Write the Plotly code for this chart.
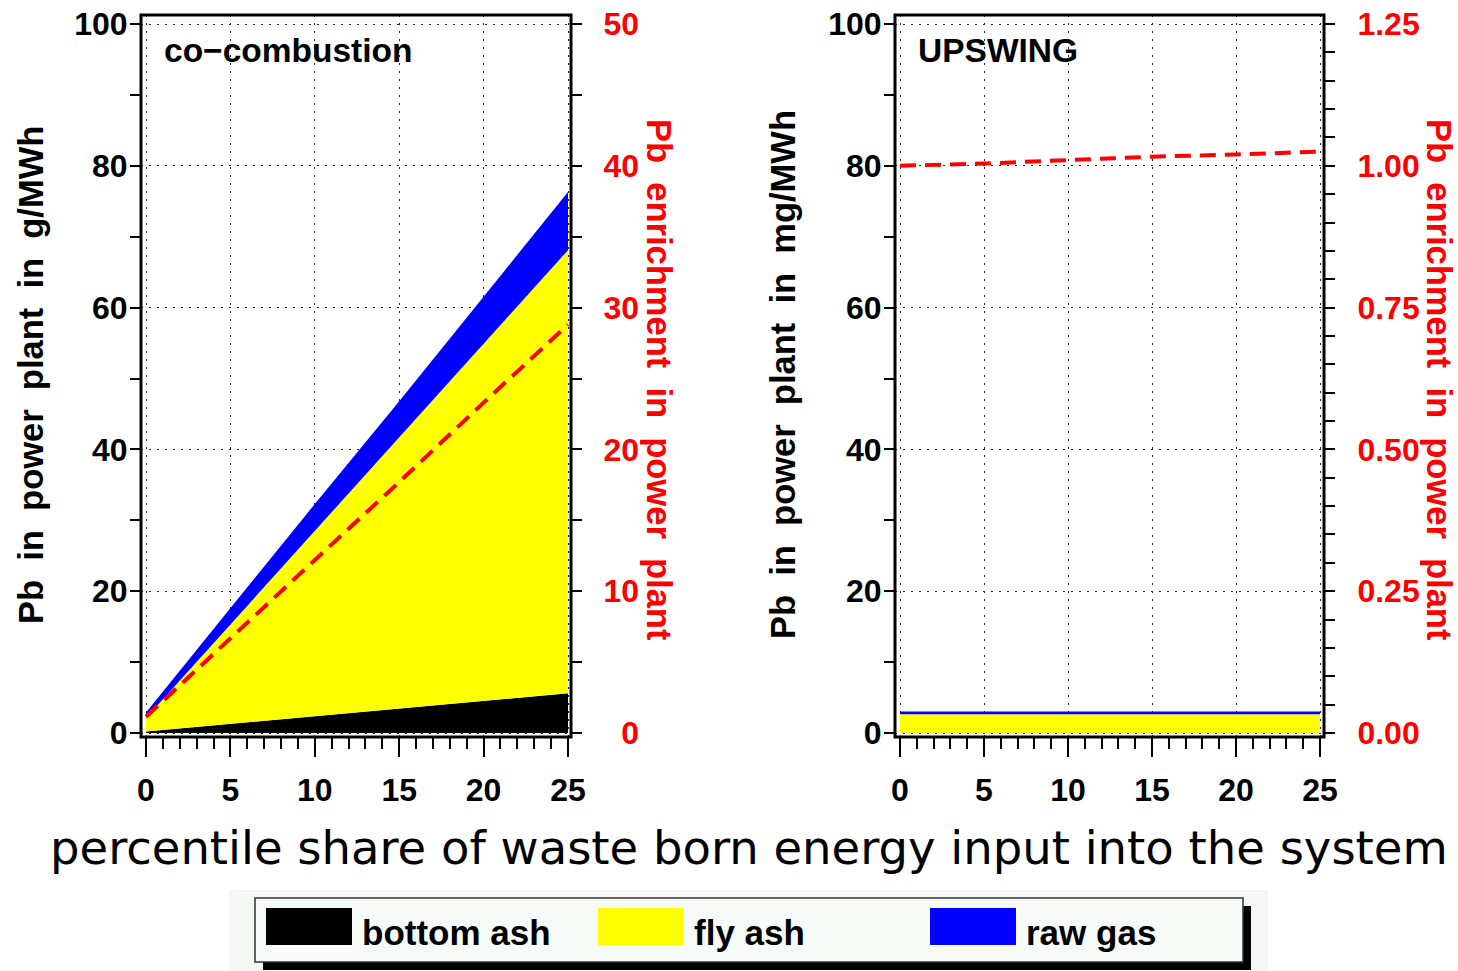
import plotly.graph_objects as go

# ---------------- data ----------------
share = [0, 5, 10, 15, 20, 25]

# co-combustion panel (g/MWh)
cc_bottom_ash = [0.2, 1.3, 2.4, 3.4, 4.5, 5.6]
cc_fly_ash = [1.9, 14.0, 26.1, 38.2, 50.4, 62.5]
cc_raw_gas = [0.8, 2.3, 3.8, 5.2, 6.7, 8.2]
cc_enrichment = [1.15, 6.7, 12.2, 17.7, 23.3, 28.8]

# UPSWING panel (mg/MWh)
up_bottom_ash = [0.05, 0.05, 0.05, 0.05, 0.05, 0.05]
up_fly_ash = [2.6, 2.6, 2.6, 2.6, 2.6, 2.6]
up_raw_gas = [0.4, 0.4, 0.4, 0.4, 0.4, 0.4]
up_enrichment = [1.000, 1.004, 1.010, 1.016, 1.020, 1.025]

series_names = ["bottom ash", "fly ash", "raw gas"]
series_colors = ["#000000", "#ffff00", "#0000ff"]
enrich_color = "#ff0000"

panel_titles = ["co\u2212combustion", "UPSWING"]
left_titles = ["Pb  in  power  plant  in  g/MWh", "Pb  in  power  plant  in  mg/MWh"]
right_title = "Pb  enrichment  in  power  plant"
x_title = "percentile share of waste born energy input into the system"

left_ticks = [0, 20, 40, 60, 80, 100]
right_ticks_cc = [0, 10, 20, 30, 40, 50]
right_ticks_up = [0.0, 0.25, 0.5, 0.75, 1.0, 1.25]
right_text_cc = ["\u00a0\u00a00", "10", "20", "30", "40", "50"]
right_text_up = ["0.00", "0.25", "0.50", "0.75", "1.00", "1.25"]

# ---------------- layout helpers ----------------
W, H = 1458, 971
def X(px):
    return px / W
def Y(py):
    return 1 - py / H

TICKFONT = dict(family="Liberation Sans", size=32, color="black", weight="bold")
TITLEFONT = dict(family="Liberation Sans", size=34.5, color="black", weight="bold")

fig = go.Figure()

panels = [
    dict(x="x", y="y", y2="y2", data=(cc_bottom_ash, cc_fly_ash, cc_raw_gas), enr=cc_enrichment),
    dict(x="x2", y="y3", y2="y4", data=(up_bottom_ash, up_fly_ash, up_raw_gas), enr=up_enrichment),
]
for p_i, p in enumerate(panels):
    for name, col, vals in zip(series_names, series_colors, p["data"]):
        fig.add_trace(go.Scatter(
            x=share, y=vals, name=name, mode="lines",
            stackgroup="s%d" % p_i, line=dict(width=0, color=col),
            fillcolor=col, showlegend=False, xaxis=p["x"], yaxis=p["y"],
            hoverinfo="skip"))
    fig.add_trace(go.Scatter(
        x=share, y=p["enr"], mode="lines", showlegend=False,
        line=dict(color=enrich_color, width=4, dash="16px,9px"),
        xaxis=p["x"], yaxis=p["y2"]))

# geometry (pixels)
ytop, ybot = 15, 737
y_zero, y_hundred = 733, 24
ppu = (y_zero - y_hundred) / 100.0
yr = [-(ybot - y_zero) / ppu, 100 + (y_hundred - ytop) / ppu]
frames = [(141, 571, 146, 568), (895, 1324, 900, 1320)]

xr = []
for (fl, fr, x0, x25) in frames:
    u = (x25 - x0) / 25.0
    xr.append([-(x0 - fl) / u, 25 + (fr - x25) / u])

ydom = [Y(ybot), Y(ytop)]
grid = dict(showgrid=True, gridcolor="#222222", gridwidth=1.2, griddash="1.5px,6.5px")

def xaxis(i):
    fl, fr = frames[i][0], frames[i][1]
    return dict(domain=[X(fl), X(fr)], range=xr[i], anchor="y" if i == 0 else "y3",
                tickvals=share, ticks="outside", ticklen=19, tickwidth=2, tickcolor="black",
                minor=dict(dtick=1, tick0=0, ticks="outside", ticklen=11, tickwidth=1.5, tickcolor="black", showgrid=False),
                tickfont=TICKFONT, ticklabelstandoff=6, showline=False, zeroline=False,
                automargin=False, **grid)

def yleft(i):
    return dict(domain=ydom, range=yr, anchor="x" if i == 0 else "x2",
                tickvals=left_ticks, ticks="outside", ticklen=10, tickwidth=1.5, tickcolor="black",
                minor=dict(dtick=10, tick0=0, ticks="outside", ticklen=10, tickwidth=1.5, tickcolor="black", showgrid=False),
                tickfont=TICKFONT, ticklabelstandoff=-4, showline=False, zeroline=False,
                automargin=False, **grid)

def yright(i, over, top, vals, text, minor_dt, standoff):
    return dict(range=[yr[0] / 100 * top, yr[1] / 100 * top], overlaying=over, side="right",
                anchor="x" if i == 0 else "x2",
                tickvals=vals, ticktext=text, ticks="outside", ticklen=10, tickwidth=1.5, tickcolor="black",
                minor=dict(dtick=minor_dt, tick0=0, ticks="outside", ticklen=10, tickwidth=1.5, tickcolor="black", showgrid=False),
                tickfont=dict(TICKFONT, color=enrich_color), ticklabelstandoff=standoff,
                showgrid=False, showline=False, zeroline=False, automargin=False)

fig.update_layout(
    width=W, height=H, autosize=False,
    margin=dict(l=0, r=0, t=0, b=0, autoexpand=False),
    paper_bgcolor="white", plot_bgcolor="white",
    xaxis=xaxis(0), xaxis2=xaxis(1),
    yaxis=yleft(0), yaxis3=yleft(1),
    yaxis2=yright(0, "y", 50, right_ticks_cc, right_text_cc, 5, 15),
    yaxis4=yright(1, "y3", 1.25, right_ticks_up, right_text_up, 0.05, 16),
)

shapes = []
annotations = []
# frames
for (fl, fr, _, _) in frames:
    shapes.append(dict(type="rect", xref="paper", yref="paper", x0=X(fl), x1=X(fr), y0=Y(ybot), y1=Y(ytop),
                       line=dict(color="black", width=3), fillcolor="rgba(0,0,0,0)", layer="above"))

# panel labels
for (fl, _, _, _), t in zip(frames, panel_titles):
    annotations.append(dict(text=t, xref="paper", yref="paper", x=X(fl + 21), y=Y(50), xanchor="left", yanchor="middle",
                            showarrow=False, font=dict(family="Liberation Sans", size=33.5, color="black", weight="bold")))

# axis titles
for xc, t in zip([31, 783], left_titles):
    annotations.append(dict(text=t, xref="paper", yref="paper", x=X(xc), y=Y(375), textangle=-90,
                            xanchor="center", yanchor="middle", showarrow=False, font=TITLEFONT))
for xc in [659, 1439]:
    annotations.append(dict(text=right_title, xref="paper", yref="paper", x=X(xc), y=Y(380), textangle=90,
                            xanchor="center", yanchor="middle", showarrow=False, font=dict(TITLEFONT, color=enrich_color)))
annotations.append(dict(text=x_title, xref="paper", yref="paper", x=X(749), y=Y(848), xanchor="center", yanchor="middle",
                        showarrow=False, font=dict(family="DejaVu Sans", size=46.5, color="black")))

# legend panel
shapes.append(dict(type="rect", xref="paper", yref="paper", x0=X(229), x1=X(1268), y0=Y(971), y1=Y(890),
                   line=dict(width=0), fillcolor="#f4f7f4", layer="below"))
shapes.append(dict(type="rect", xref="paper", yref="paper", x0=X(263), x1=X(1251), y0=Y(970), y1=Y(906),
                   line=dict(width=0), fillcolor="black"))
shapes.append(dict(type="rect", xref="paper", yref="paper", x0=X(255), x1=X(1243), y0=Y(962), y1=Y(898),
                   line=dict(color="#333333", width=1.5), fillcolor="#f7fbf7"))
legend_x = [266, 598, 930]
for lx, name, col in zip(legend_x, series_names, series_colors):
    shapes.append(dict(type="rect", xref="paper", yref="paper", x0=X(lx), x1=X(lx + 86), y0=Y(945), y1=Y(908),
                       line=dict(width=0), fillcolor=col))
    annotations.append(dict(text=name, xref="paper", yref="paper", x=X(lx + 94), y=Y(932), xanchor="left", yanchor="middle",
                            showarrow=False, font=dict(family="Liberation Sans", size=35, color="black", weight="bold")))

fig.update_layout(shapes=shapes, annotations=annotations)
fig.write_html("out.html")
